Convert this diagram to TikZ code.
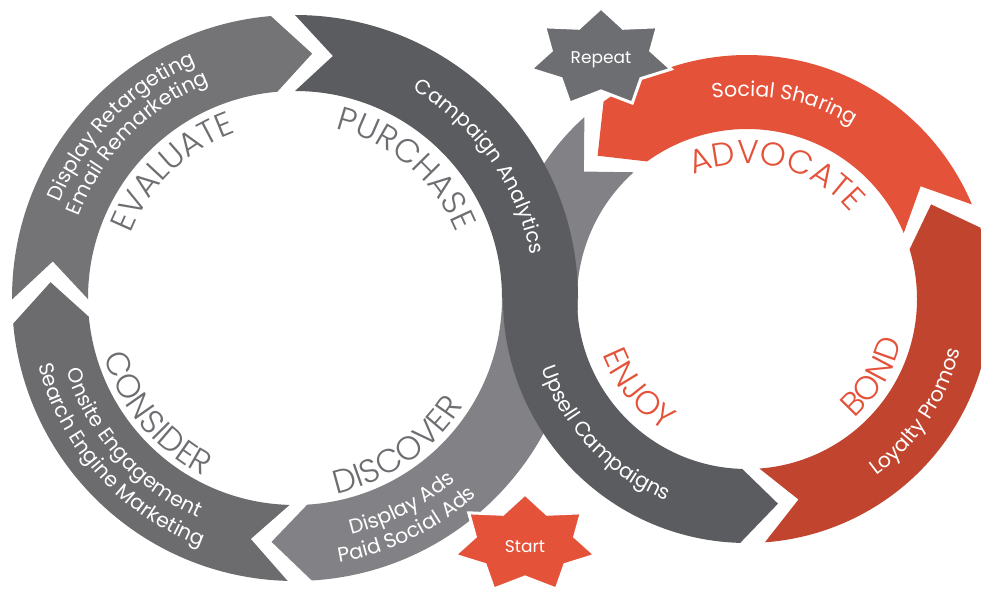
\documentclass[tikz,border=0pt]{standalone}
\usepackage{fontspec}
\setmainfont{Poppins}
\IfFontExistsTF{Poppins Light}{\newfontfamily\thinfont{Poppins Light}}{\newfontfamily\thinfont{Poppins}}
\usetikzlibrary{calc,decorations.text,positioning}

\definecolor{discgray}{HTML}{828286}
\definecolor{considergray}{HTML}{6C6C6F}
\definecolor{evalgray}{HTML}{747477}
\definecolor{darkgray}{HTML}{5B5C5F}
\definecolor{advred}{HTML}{E5523A}
\definecolor{bondred}{HTML}{C1442E}
\definecolor{stagegray}{HTML}{6D6E71}

\newcommand{\bandfont}{\fontsize{20.5}{20.5}\selectfont}
\newcommand{\stagefont}{\thinfont\fontsize{33}{33}\selectfont}

% text on an arc, clockwise (letters point outward) and counter-clockwise (letters point inward)
\newcommand{\cwtext}[5]{\path[decorate,decoration={text along path,text align=center,text={|#4|#5}}]
  ($(#1)+({#3+60}:#2)$) arc[start angle={#3+60},end angle={#3-60},radius=#2];}
\newcommand{\ccwtext}[5]{\path[decorate,decoration={text along path,text align=center,text={|#4|#5}}]
  ($(#1)+({#3-60}:#2)$) arc[start angle={#3-60},end angle={#3+60},radius=#2];}

\newcommand{\sevenstar}[2]{\filldraw[fill=#2,draw=white,line width=3pt]
  ($(#1)+(90:72 and 50)$) foreach \k in {1,...,7}{
    -- ($(#1)+({90+(\k-0.5)*360/7}:51 and 33)$) -- ($(#1)+({90+\k*360/7}:72 and 50)$)} -- cycle;}

\begin{document}
\begin{tikzpicture}[x=1pt,y=1pt]
  \tikzstyle{startext}=[text=white,font=\fontsize{17}{17}\selectfont,inner sep=0pt]

  \useasboundingbox (0,0) rectangle (981,590);
  \clip (0,0) rectangle (981,590);

  \coordinate (c_l) at (295,292);
  \coordinate (c_r) at (747,291);

  \fill[discgray] ($(c_r)+(131.8:244)$) arc[start angle=131.8,end angle=180,radius=244]
    -- ($(c_l)+(0:207)$) arc[start angle=0,end angle=-86.6,radius=207]
    -- ($(c_l)+(-95.5:245)$) -- ($(c_l)+(-86.6:283)$) arc[start angle=-86.6,end angle=0,radius=283]
    -- ($(c_r)+(180:170)$) arc[start angle=180,end angle=131.8,radius=170]
    -- ($(c_r)+(142:207)$) -- cycle;

  \fill[considergray] ($(c_l)+(268.5:283)$) arc[start angle=268.5,end angle=185.2,radius=283]
    -- ($(c_l)+(176.3:245)$) -- ($(c_l)+(185.2:207)$) arc[start angle=185.2,end angle=268.5,radius=207]
    -- ($(c_l)+(259.6:245)$) -- cycle;

  \fill[evalgray] ($(c_l)+(180.3:283)$) arc[start angle=180.3,end angle=94.9,radius=283]
    -- ($(c_l)+(86:245)$) -- ($(c_l)+(94.9:207)$) arc[start angle=94.9,end angle=180.3,radius=207]
    -- ($(c_l)+(171.4:245)$) -- cycle;

  \fill[bondred] ($(c_r)+(274.2:244)$) arc[start angle=274.2,end angle=377,radius=244]
    -- ($(c_r)+(387.2:207)$) -- ($(c_r)+(377:170)$) arc[start angle=377,end angle=274.2,radius=170]
    -- ($(c_r)+(284.4:207)$) -- cycle;

  \fill[advred] ($(c_r)+(382.8:244)$) arc[start angle=382.8,end angle=486,radius=244]
    -- ($(c_r)+(496.2:207)$) -- ($(c_r)+(486:170)$) arc[start angle=486,end angle=382.8,radius=170]
    -- ($(c_r)+(393:207)$) -- cycle;

  \fill[darkgray] ($(c_l)+(90:283)$) arc[start angle=90,end angle=0,radius=283]
    -- ($(c_r)+(180:170)$) arc[start angle=180,end angle=268.4,radius=170]
    -- ($(c_r)+(278.6:207)$) -- ($(c_r)+(268.4:244)$) arc[start angle=268.4,end angle=180,radius=244]
    -- ($(c_l)+(0:207)$) arc[start angle=0,end angle=90,radius=207]
    -- ($(c_l)+(81.1:245)$) -- cycle;

  \cwtext{c_l}{254}{135.4}{\bandfont\color{white}}{Display Retargeting}
  \cwtext{c_l}{231}{135.5}{\bandfont\color{white}}{Email Remarketing}
  \cwtext{c_l}{239}{35.4}{\bandfont\color{white}}{Campaign Analytics}
  \ccwtext{c_l}{240}{221.9}{\bandfont\color{white}}{Onsite Engagement}
  \ccwtext{c_l}{265.5}{222}{\bandfont\color{white}}{Search Engine Marketing}
  \ccwtext{c_l}{243}{-62.65}{\bandfont\color{white}}{Display Ads}
  \ccwtext{c_l}{268}{-63.9}{\bandfont\color{white}}{Paid Social Ads}
  \cwtext{c_r}{203}{79.2}{\bandfont\color{white}}{Social Sharing}
  \ccwtext{c_r}{217}{223.5}{\bandfont\color{white}}{Upsell Campaigns}
  \ccwtext{c_r}{219}{-33.7}{\bandfont\color{white}}{Loyalty Promos}

  \cwtext{c_l}{176}{134.1}{\stagefont\color{stagegray}}{EVALUATE}
  \cwtext{c_l}{174}{49.3}{\stagefont\color{stagegray}}{PURCHASE}
  \ccwtext{c_l}{200}{220}{\stagefont\color{stagegray}}{CONSIDER}
  \ccwtext{c_l}{200}{-55.35}{\stagefont\color{stagegray}}{DISCOVER}
  \cwtext{c_r}{135}{76.5}{\stagefont\color{advred}}{ADVOCATE}
  \ccwtext{c_r}{155}{219.6}{\stagefont\color{advred}}{ENJOY}
  \ccwtext{c_r}{161}{-31.75}{\stagefont\color{advred}}{BOND}

  \coordinate (s_start) at (525,46);
  \coordinate (s_repeat) at (601,532);
  \sevenstar{s_start}{advred}
  \sevenstar{s_repeat}{stagegray}
  \node[startext] (start) at ([yshift=-3pt]s_start) {Start};
  \node[startext] (repeat) at ([yshift=-2pt]s_repeat) {Repeat};
\end{tikzpicture}
\end{document}
